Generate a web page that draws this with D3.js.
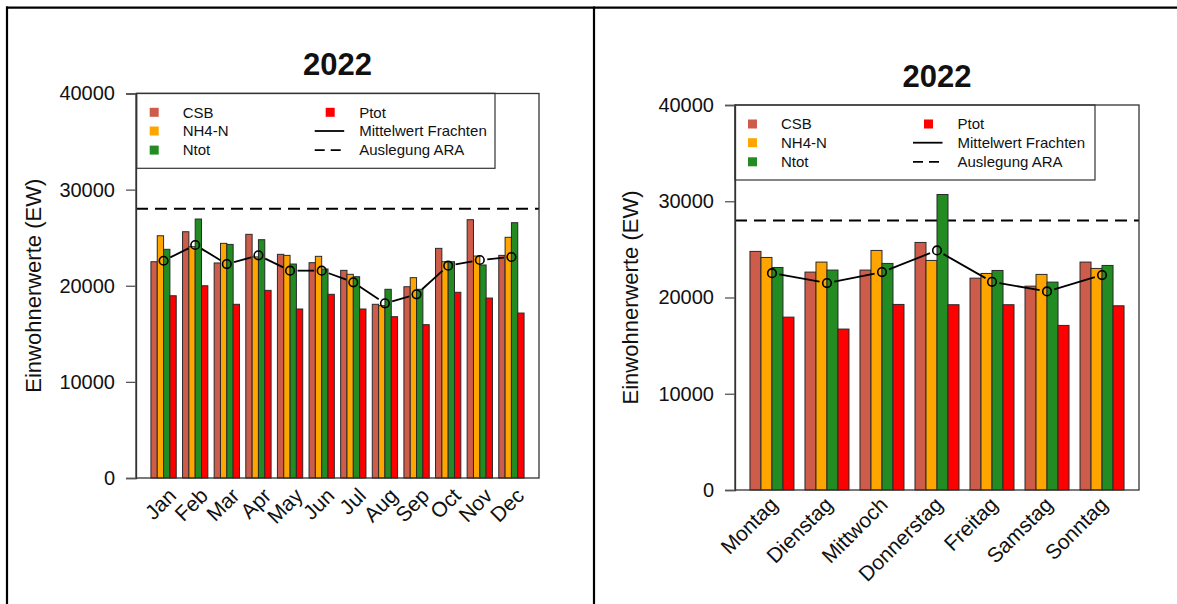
<!DOCTYPE html>
<html>
<head>
<meta charset="utf-8">
<script src="https://cdn.jsdelivr.net/npm/d3@7"></script>
<style>
  html, body { margin: 0; padding: 0; background: #fff; }
  svg { display: block; font-family: "Liberation Sans", Arial, sans-serif; }
</style>
</head>
<body>
<svg id="chart" width="1177" height="604"></svg>
<script>
// Monthly loads 2022 (Einwohnerwerte)
const months = ["Jan", "Feb", "Mar", "Apr", "May", "Jun", "Jul", "Aug", "Sep", "Oct", "Nov", "Dec"];
const monthCSB  = [22500, 25620, 22370, 25350, 23270, 22400, 21600, 18070, 19900, 23890, 26870, 23160];
const monthNH4  = [25200, 24060, 24410, 23000, 23160, 23060, 21190, 17930, 20840, 22500, 23090, 25040];
const monthNtot = [23790, 26940, 24300, 24790, 22260, 21740, 20940, 19630, 19630, 22500, 22160, 26560];
const monthPtot = [18960, 20000, 18070, 19520, 17580, 19110, 17580, 16780, 15950, 19320, 18720, 17160];
const monthMean = [22600, 24240, 22260, 23160, 21570, 21570, 20360, 18170, 19110, 22090, 22680, 22990];

// Weekday loads 2022
const days = ["Montag", "Dienstag", "Mittwoch", "Donnerstag", "Freitag", "Samstag", "Sonntag"];
const dayCSB  = [24790, 22640, 22850, 25720, 22010, 21180, 23680];
const dayNH4  = [24160, 23680, 24890, 23850, 22500, 22400, 23020];
const dayNtot = [23120, 22850, 23540, 30700, 22810, 21600, 23330];
const dayPtot = [17960, 16720, 19280, 19250, 19250, 17100, 19140];
const dayMean = [22530, 21500, 22640, 24890, 21630, 20630, 22330];

// Design capacity of the plant
const designLoad = 28000;

const seriesNames = ["CSB", "NH4-N", "Ntot", "Ptot"];
const seriesColors = ["#CD5C4A", "#FFA500", "#228B22", "#FF0000"];
const yTicks = [0, 10000, 20000, 30000, 40000];
const titleText = "2022";
const yTitle = "Einwohnerwerte (EW)";

const svg = d3.select("#chart");
svg.append("rect").attr("width", 1177).attr("height", 604).attr("fill", "#fff");

// Page frame
const frame = svg.append("g").attr("stroke", "#000").attr("stroke-width", 2.2);
frame.append("line").attr("x1", 6).attr("x2", 1177).attr("y1", 7.7).attr("y2", 7.7);
frame.append("line").attr("x1", 7).attr("x2", 7).attr("y1", 6.6).attr("y2", 604);
frame.append("line").attr("x1", 594).attr("x2", 594).attr("y1", 6.6).attr("y2", 604);

function drawChart(cfg) {
  const g = svg.append("g");
  const { x0, x1, y0, y1 } = cfg.box;
  const series = [cfg.csb, cfg.nh4, cfg.ntot, cfg.ptot];

  const y = d3.scaleLinear().domain([0, 40000]).range([y1, y0]);
  const x = d3.scaleBand().domain(cfg.cats).range([x0, x1])
    .paddingInner(0.2).paddingOuter(cfg.outer);
  const xs = d3.scaleBand().domain(seriesNames).range([0, x.bandwidth()]).padding(0);

  // Design load (dashed)
  g.append("line")
    .attr("x1", x0).attr("x2", x1)
    .attr("y1", y(designLoad)).attr("y2", y(designLoad))
    .attr("stroke", "#000").attr("stroke-width", 2)
    .attr("stroke-dasharray", "12,7");

  // Bars
  cfg.cats.forEach((c, i) => {
    seriesNames.forEach((s, j) => {
      const v = series[j][i];
      g.append("rect")
        .attr("x", x(c) + xs(s))
        .attr("y", y(v))
        .attr("width", xs.bandwidth())
        .attr("height", y(0) - y(v))
        .attr("fill", seriesColors[j])
        .attr("stroke", "#2a2a2a")
        .attr("stroke-width", 1);
    });
  });

  // Mean line with gaps around the points
  const pts = cfg.cats.map((c, i) => [x(c) + x.bandwidth() / 2, y(cfg.mean[i])]);
  const gap = 7.5;
  for (let i = 0; i < pts.length - 1; i++) {
    const [ax, ay] = pts[i], [bx, by] = pts[i + 1];
    const dx = bx - ax, dy = by - ay, len = Math.hypot(dx, dy);
    if (len <= 2 * gap) continue;
    const ux = dx / len, uy = dy / len;
    g.append("line")
      .attr("x1", ax + ux * gap).attr("y1", ay + uy * gap)
      .attr("x2", bx - ux * gap).attr("y2", by - uy * gap)
      .attr("stroke", "#000").attr("stroke-width", 1.8);
  }
  pts.forEach(([px, py]) => {
    g.append("circle").attr("cx", px).attr("cy", py).attr("r", 4.3)
      .attr("fill", "none").attr("stroke", "#000").attr("stroke-width", 1.6);
  });

  // Legend
  const L = cfg.legend;
  g.append("rect").attr("x", L.x).attr("y", L.y).attr("width", L.w).attr("height", L.h)
    .attr("fill", "#fff").attr("stroke", "#333").attr("stroke-width", 1.2);
  const rows = [L.y + 19, L.y + 37.7, L.y + 56.8];
  const leg = g.append("g").attr("font-size", 15).attr("fill", "#111");
  seriesNames.slice(0, 3).forEach((s, j) => {
    leg.append("rect").attr("x", L.x + 13).attr("y", rows[j] - 4.5).attr("width", 9).attr("height", 9)
      .attr("fill", seriesColors[j]);
    leg.append("text").attr("x", L.x + 46).attr("y", rows[j]).attr("dy", "0.35em").text(s);
  });
  leg.append("rect").attr("x", L.x + 189).attr("y", rows[0] - 4.5).attr("width", 9).attr("height", 9)
    .attr("fill", seriesColors[3]);
  leg.append("text").attr("x", L.x + 222.5).attr("y", rows[0]).attr("dy", "0.35em").text(seriesNames[3]);
  leg.append("line").attr("x1", L.x + 178).attr("x2", L.x + 207.5).attr("y1", rows[1]).attr("y2", rows[1])
    .attr("stroke", "#000").attr("stroke-width", 1.8);
  leg.append("text").attr("x", L.x + 222.5).attr("y", rows[1]).attr("dy", "0.35em").text("Mittelwert Frachten");
  leg.append("line").attr("x1", L.x + 178).attr("x2", L.x + 207.5).attr("y1", rows[2]).attr("y2", rows[2])
    .attr("stroke", "#000").attr("stroke-width", 1.8).attr("stroke-dasharray", "10,6");
  leg.append("text").attr("x", L.x + 222.5).attr("y", rows[2]).attr("dy", "0.35em").text("Auslegung ARA");

  // Plot box
  g.append("rect").attr("x", x0).attr("y", y0).attr("width", x1 - x0).attr("height", y1 - y0)
    .attr("fill", "none").attr("stroke", "#333").attr("stroke-width", 1.3);

  // Y axis
  const yAxis = d3.axisLeft(y).tickValues(yTicks).tickSize(10).tickPadding(11).tickFormat(d3.format("d"));
  const ya = g.append("g").attr("transform", `translate(${x0},0)`).call(yAxis);
  ya.select(".domain").attr("stroke", "#333").attr("stroke-width", 1.3);
  ya.selectAll(".tick line").attr("stroke", "#555").attr("stroke-width", 1.3);
  ya.selectAll(".tick text").attr("font-size", 20).attr("fill", "#111")
    .attr("font-family", "Liberation Sans, Arial, sans-serif");

  // X labels, rotated
  const xl = g.append("g").attr("font-size", 21).attr("fill", "#111");
  cfg.cats.forEach(c => {
    const cx = x(c) + x.bandwidth() / 2 + cfg.labelDx;
    const cy = y1 + cfg.labelDy;
    xl.append("text").attr("text-anchor", "end")
      .attr("transform", `translate(${cx},${cy}) rotate(-45)`)
      .text(c);
  });

  // Titles
  g.append("text").attr("x", (x0 + x1) / 2).attr("y", cfg.titleY).attr("text-anchor", "middle")
    .attr("font-size", 31).attr("font-weight", "bold").attr("fill", "#111").text(titleText);
  g.append("text").attr("text-anchor", "middle").attr("font-size", 22).attr("fill", "#111")
    .attr("transform", `translate(${cfg.yTitleX},${(y0 + y1) / 2}) rotate(-90)`)
    .attr("dy", "0.35em").text(yTitle);
}

drawChart({
  cats: months, csb: monthCSB, nh4: monthNH4, ntot: monthNtot, ptot: monthPtot, mean: monthMean,
  box: { x0: 136, x1: 539, y0: 93.5, y1: 478 },
  outer: 0.472,
  legend: { x: 136.7, y: 93.3, w: 358.3, h: 75 },
  titleY: 75, yTitleX: 33, labelDx: 14, labelDy: 19
});

drawChart({
  cats: days, csb: dayCSB, nh4: dayNH4, ntot: dayNtot, ptot: dayPtot, mean: dayMean,
  box: { x0: 735, x1: 1139, y0: 105, y1: 490 },
  outer: 0.272,
  legend: { x: 735, y: 105, w: 360, h: 75 },
  titleY: 87, yTitleX: 630, labelDx: 7, labelDy: 16
});
</script>
</body>
</html>
